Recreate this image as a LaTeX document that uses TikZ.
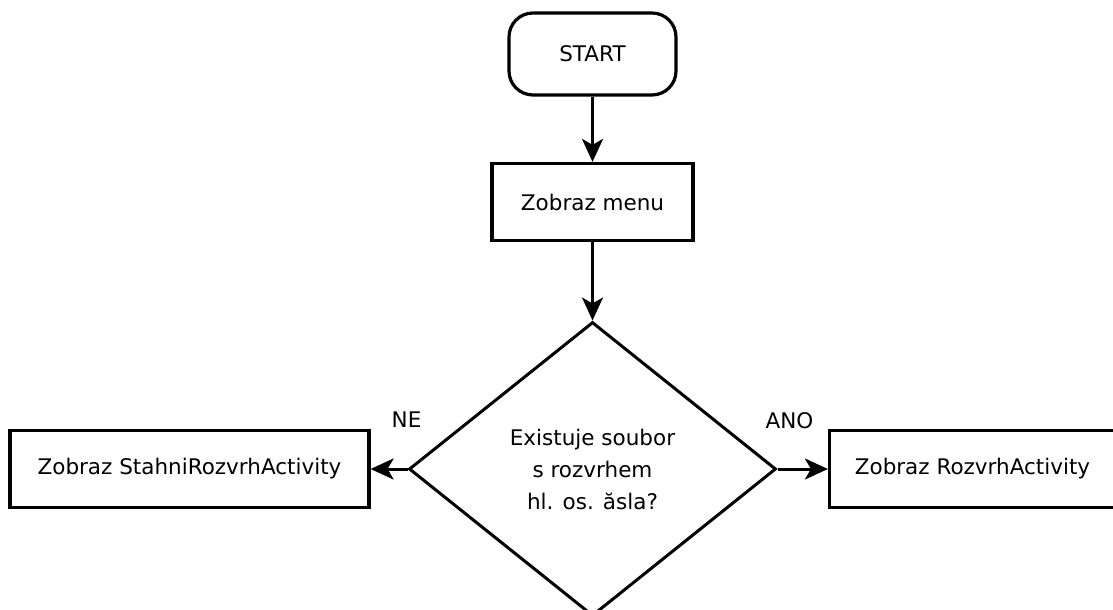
\documentclass[tikz,border=0pt]{standalone}
\usepackage{fontspec}
\setmainfont{DejaVu Sans}
\usetikzlibrary{shapes.geometric, arrows.meta}

\begin{document}
\begin{tikzpicture}[node distance=148pt, font=\fontsize{21.5}{32}\selectfont]
	\tikzstyle{startstop} = [rectangle, rounded corners=24pt, minimum width=167pt, 
	minimum height=82pt, text centered, draw=black, line width=3.2pt]
	\tikzstyle{process} = [rectangle, minimum height=77pt, text centered, 
	draw=black, line width=3.2pt]
	\tikzstyle{decision} = [diamond, minimum width=367pt, minimum height=294pt, 
	inner sep=0pt, align=center, draw=black, line width=3pt]
	\tikzstyle{arrow} = [line width=3pt,-{Stealth[length=23pt,width=21pt,inset=6pt]}]
	\useasboundingbox (0,0) rectangle (1113pt,-610pt);
	\node (start) [startstop] at (592.5pt,-54pt) {START};
	\node (menu) [process, below of=start, minimum width=201pt] {Zobraz menu};
	\node (fileExists) [decision, below of=menu, yshift=-119pt] {Existuje soubor\\s rozvrhem\\hl. os. ăsla?};
	\node (stahni) [process, left of=fileExists, xshift=-255pt, minimum width=359pt] {Zobraz StahniRozvrhActivity};
	\node (rozvrh) [process, right of=fileExists, xshift=232pt, minimum width=286pt] {Zobraz RozvrhActivity};
	\node (no) [xshift=-1pt, yshift=49pt] at (fileExists.west) {NE};
	\node (yes) [xshift=12pt, yshift=48pt] at (fileExists.east) {ANO};
	\draw [arrow] (start) -- (menu);
	\draw [arrow] (menu) -- (fileExists);
	\draw [arrow] (fileExists) -- (stahni);
	\draw [arrow] (fileExists) -- (rozvrh);
\end{tikzpicture}
\end{document}
